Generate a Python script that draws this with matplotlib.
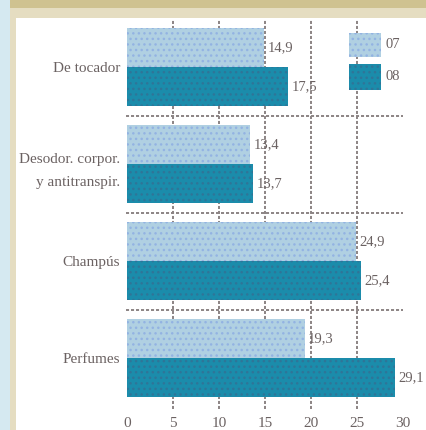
import matplotlib
matplotlib.use("Agg")
import matplotlib.pyplot as plt
from matplotlib.patches import Rectangle
import numpy as np

categories = ["De tocador", "Desodor. corpor.\ny antitranspir.", "Champús", "Perfumes"]
series_names = ["07", "08"]
values_07 = [14.9, 13.4, 24.9, 19.3]
values_08 = [17.5, 13.7, 25.4, 29.1]
xticks = [0, 5, 10, 15, 20, 25, 30]

W, H = 426, 430
plt.rcParams['hatch.linewidth'] = 1.0
plt.rcParams['lines.scale_dashes'] = False
FONT = ["Liberation Serif", "DejaVu Serif"]
TXT = "#6b6262"
GRID = "#8c8484"
C07, H07 = "#b0d0e2", "#93b3e2"
C08, H08 = "#1b8cab", "#2f7598"

fig = plt.figure(figsize=(W / 100, H / 100), dpi=100)
fig.patch.set_facecolor("white")

def px_rect(x0, y0, x1, y1, color):
    fig.patches.append(Rectangle((x0 / W, 1 - y1 / H), (x1 - x0) / W, (y1 - y0) / H,
                                 transform=fig.transFigure, facecolor=color,
                                 edgecolor="none", zorder=0))

# decorative frame
px_rect(0, 0, 10, H, "#d5e9f1")
px_rect(10, 8, 16, H, "#e5ddc1")
px_rect(10, 8, W, 18, "#e5ddc1")
px_rect(10, 0, W, 8, "#cfc290")

left, right, top, bottom = 127, 403, 20, 398
ax = fig.add_axes([left / W, 1 - bottom / H, (right - left) / W, (bottom - top) / H])
ax.set_facecolor("none")

y = np.arange(len(categories))
h = 0.4
ax.barh(y - h / 2, values_07, height=h, color=C07, edgecolor=H07,
        hatch="...", linewidth=0, zorder=3)
ax.barh(y + h / 2, values_08, height=h, color=C08, edgecolor=H08,
        hatch="...", linewidth=0, zorder=3)

for i in range(len(categories)):
    ax.text(values_07[i] + 0.35, y[i] - h / 2, f"{values_07[i]:.1f}".replace(".", ","),
            va="center", ha="left", fontsize=10.5, color=TXT, family=FONT, zorder=4)
    ax.text(values_08[i] + 0.35, y[i] + h / 2, f"{values_08[i]:.1f}".replace(".", ","),
            va="center", ha="left", fontsize=10.5, color=TXT, family=FONT, zorder=4)

ax.set_xlim(0, 30)
ax.set_ylim(3.41, -0.485)

# grid lines (dashed), extended slightly below the plot
for xv in xticks[1:-1]:
    ax.plot([xv, xv], [-0.03, 1.0], transform=ax.get_xaxis_transform(), color=GRID,
            lw=1.4, dashes=(2.2, 1.4), zorder=1, clip_on=False)
for yv in [0.5, 1.5, 2.5]:
    ax.plot([-0.005, 1.0], [yv, yv], transform=ax.get_yaxis_transform(), color=GRID,
            lw=1.4, dashes=(2.2, 1.4), zorder=1, clip_on=False)

for s in ax.spines.values():
    s.set_visible(False)

ax.set_xticks(xticks)
ax.set_xticklabels([str(t) for t in xticks], family=FONT, fontsize=11, color=TXT)
ax.tick_params(axis="x", length=0, pad=14)
ax.set_yticks(y)
ax.set_yticklabels(categories, family=FONT, fontsize=11, color=TXT, linespacing=2.0)
ax.tick_params(axis="y", length=0, pad=5)

# legend
sw = [("07", 33, 57, C07, H07), ("08", 64, 90, C08, H08)]
for lab, y0, y1, fc, ec in sw:
    fig.patches.append(Rectangle((349 / W, 1 - y1 / H), 32 / W, (y1 - y0) / H,
                                 transform=fig.transFigure, facecolor=fc, edgecolor=ec,
                                 hatch="...", linewidth=0, zorder=5))
    fig.text(385 / W, 1 - (y0 + y1) / 2 / H, lab, va="center", ha="left",
             family=FONT, fontsize=10.5, color=TXT)

fig.savefig("out.png", dpi=100, facecolor=fig.get_facecolor())
